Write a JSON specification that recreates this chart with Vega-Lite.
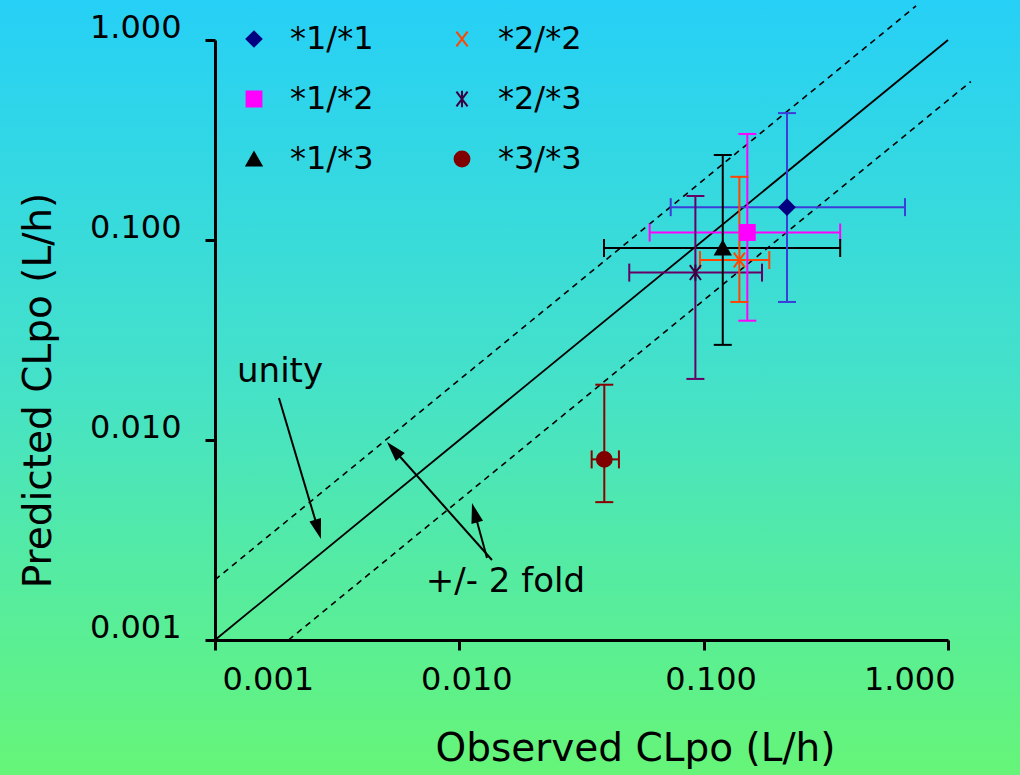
{
  "$schema": "https://vega.github.io/schema/vega-lite/v6.json",
  "width": 733,
  "height": 600,
  "autosize": {"type": "none"},
  "padding": {"left": 215, "top": 40, "right": 72, "bottom": 135},
  "background": "#45E2C8",
  "config": {
    "font": "DejaVu Sans",
    "view": {"stroke": null},
    "axis": {
      "labelFont": "DejaVu Sans",
      "titleFont": "DejaVu Sans",
      "labelColor": "black",
      "titleColor": "black",
      "domainColor": "black",
      "tickColor": "black",
      "grid": false
    },
    "legend": {
      "labelFont": "DejaVu Sans",
      "labelFontSize": 32,
      "labelColor": "black",
      "symbolSize": 220,
      "symbolStrokeWidth": 2,
      "rowPadding": 28,
      "columnPadding": 72,
      "labelOffset": 20,
      "padding": 0
    }
  },
  "datasets": {
    "bg": [{"x1": 0.0001318, "x2": 1.97, "y1": 0.0002113, "y2": 1.585}],
    "unity": [{"x": 0.001, "y": 0.001}, {"x": 1, "y": 1}],
    "fold": [
      {"line": "upper", "x": 0.001, "y": 0.002},
      {"line": "upper", "x": 0.74, "y": 1.48},
      {"line": "lower", "x": 0.002, "y": 0.001},
      {"line": "lower", "x": 1.24, "y": 0.62}
    ],
    "arrows": [
      {"id": "a1", "x": 0.001827, "y": 0.01622, "hx": 0.002642, "hy": 0.003573},
      {"id": "a2", "x": 0.01360, "y": 0.002512, "hx": 0.005384, "hy": 0.008965},
      {"id": "a3", "x": 0.01298, "y": 0.00257, "hx": 0.01155, "hy": 0.004329}
    ],
    "notes": [
      {"label": "unity", "x": 0.001846, "y": 0.0219},
      {"label": "+/- 2 fold", "x": 0.01543, "y": 0.00195}
    ],
    "pts": [
      {"g": "*1/*1", "x": 0.2193, "xlo": 0.0733, "xhi": 0.667, "y": 0.146, "ylo": 0.049, "yhi": 0.431},
      {"g": "*1/*2", "x": 0.1509, "xlo": 0.0601, "xhi": 0.362, "y": 0.109, "ylo": 0.0395, "yhi": 0.339},
      {"g": "*1/*3", "x": 0.1197, "xlo": 0.0391, "xhi": 0.362, "y": 0.0912, "ylo": 0.0299, "yhi": 0.266},
      {"g": "*2/*2", "x": 0.140, "xlo": 0.0966, "xhi": 0.1856, "y": 0.0794, "ylo": 0.049, "yhi": 0.207},
      {"g": "*2/*3", "x": 0.0925, "xlo": 0.0496, "xhi": 0.1733, "y": 0.0687, "ylo": 0.0202, "yhi": 0.166},
      {"g": "*3/*3", "x": 0.0392, "xlo": 0.0348, "xhi": 0.0450, "y": 0.0080, "ylo": 0.00489, "yhi": 0.0189}
    ]
  },
  "layer": [
    {
      "data": {"name": "bg"},
      "mark": {
        "type": "rect",
        "fill": {
          "gradient": "linear",
          "x1": 0, "y1": 0, "x2": 0, "y2": 1,
          "stops": [
            {"offset": 0, "color": "#26D0F6"},
            {"offset": 0.5, "color": "#45E2C8"},
            {"offset": 1, "color": "#66F578"}
          ]
        }
      },
      "encoding": {
        "x": {
          "field": "x1", "type": "quantitative",
          "scale": {"type": "log", "domain": [0.001, 1], "nice": false},
          "axis": {
            "zindex": 2,
            "values": [0.001, 0.01, 0.1, 1],
            "format": ".3f",
            "labelFontSize": 32,
            "labelPadding": 14,
            "labelOffset": 7,
            "tickSize": 10,
            "tickWidth": 3,
            "domainWidth": 3,
            "title": "Observed CLpo (L/h)",
            "titleFontSize": 39,
            "titleFontWeight": "normal",
            "titleX": 420,
            "titleY": 108,
            "titleBaseline": "middle",
            "titleAlign": "center"
          }
        },
        "x2": {"field": "x2"},
        "y": {
          "field": "y1", "type": "quantitative",
          "scale": {"type": "log", "domain": [0.001, 1], "nice": false},
          "axis": {
            "zindex": 2,
            "values": [0.001, 0.01, 0.1, 1],
            "format": ".3f",
            "labelFontSize": 32,
            "labelPadding": 24,
            "labelOffset": -13,
            "tickSize": 10,
            "tickWidth": 3,
            "domainWidth": 3,
            "title": "Predicted CLpo (L/h)",
            "titleFontSize": 39,
            "titleFontWeight": "normal",
            "titleX": -177,
            "titleY": 350,
            "titleAngle": -90,
            "titleBaseline": "middle",
            "titleAlign": "center"
          }
        },
        "y2": {"field": "y2"}
      }
    },
    {
      "data": {"name": "fold"},
      "mark": {"type": "line", "color": "black", "strokeWidth": 1.6, "strokeDash": [6, 5]},
      "encoding": {
        "x": {"field": "x", "type": "quantitative"},
        "y": {"field": "y", "type": "quantitative"},
        "detail": {"field": "line"}
      }
    },
    {
      "data": {"name": "unity"},
      "mark": {"type": "line", "color": "black", "strokeWidth": 1.8},
      "encoding": {
        "x": {"field": "x", "type": "quantitative"},
        "y": {"field": "y", "type": "quantitative"}
      }
    },
    {
      "data": {"name": "arrows"},
      "mark": {"type": "rule", "color": "black", "strokeWidth": 2},
      "encoding": {
        "x": {"field": "x", "type": "quantitative"},
        "y": {"field": "y", "type": "quantitative"},
        "x2": {"field": "hx"},
        "y2": {"field": "hy"}
      }
    },
    {
      "data": {"name": "arrows"},
      "transform": [{"filter": "datum.id == 'a1'"}],
      "mark": {"type": "point", "shape": "M 0 -1 L 0.6 1 L -0.6 1 Z", "filled": true, "color": "black", "size": 400, "opacity": 1, "angle": 163.4},
      "encoding": {
        "x": {"field": "hx", "type": "quantitative"},
        "y": {"field": "hy", "type": "quantitative"}
      }
    },
    {
      "data": {"name": "arrows"},
      "transform": [{"filter": "datum.id == 'a2'"}],
      "mark": {"type": "point", "shape": "M 0 -1 L 0.6 1 L -0.6 1 Z", "filled": true, "color": "black", "size": 400, "opacity": 1, "angle": 318.3},
      "encoding": {
        "x": {"field": "hx", "type": "quantitative"},
        "y": {"field": "hy", "type": "quantitative"}
      }
    },
    {
      "data": {"name": "arrows"},
      "transform": [{"filter": "datum.id == 'a3'"}],
      "mark": {"type": "point", "shape": "M 0 -1 L 0.6 1 L -0.6 1 Z", "filled": true, "color": "black", "size": 400, "opacity": 1, "angle": 344.8},
      "encoding": {
        "x": {"field": "hx", "type": "quantitative"},
        "y": {"field": "hy", "type": "quantitative"}
      }
    },
    {
      "data": {"name": "notes"},
      "mark": {"type": "text", "fontSize": 34, "color": "black", "align": "center", "baseline": "middle"},
      "encoding": {
        "x": {"field": "x", "type": "quantitative"},
        "y": {"field": "y", "type": "quantitative"},
        "text": {"field": "label"}
      }
    },
    {
      "data": {"name": "pts"},
      "mark": {"type": "rule", "strokeWidth": 2},
      "encoding": {
        "x": {"field": "xlo", "type": "quantitative"},
        "x2": {"field": "xhi"},
        "y": {"field": "y", "type": "quantitative"},
        "color": {
          "field": "g", "type": "nominal", "legend": null,
          "scale": {
            "domain": ["*1/*1", "*2/*2", "*1/*2", "*2/*3", "*1/*3", "*3/*3"],
            "range": ["#3C3CD8", "#FF4500", "#FF00FF", "#660066", "#000000", "#8B0000"]
          }
        }
      }
    },
    {
      "data": {"name": "pts"},
      "mark": {"type": "rule", "strokeWidth": 2},
      "encoding": {
        "x": {"field": "x", "type": "quantitative"},
        "y": {"field": "ylo", "type": "quantitative"},
        "y2": {"field": "yhi"},
        "color": {"field": "g", "type": "nominal", "legend": null}
      }
    },
    {
      "data": {"name": "pts"},
      "transform": [{"fold": ["xlo", "xhi"], "as": ["end", "xv"]}],
      "mark": {"type": "tick", "orient": "vertical", "size": 18, "thickness": 2, "opacity": 1},
      "encoding": {
        "x": {"field": "xv", "type": "quantitative"},
        "y": {"field": "y", "type": "quantitative"},
        "color": {"field": "g", "type": "nominal", "legend": null}
      }
    },
    {
      "data": {"name": "pts"},
      "transform": [{"fold": ["ylo", "yhi"], "as": ["end", "yv"]}],
      "mark": {"type": "tick", "orient": "horizontal", "size": 18, "thickness": 2, "opacity": 1},
      "encoding": {
        "x": {"field": "x", "type": "quantitative"},
        "y": {"field": "yv", "type": "quantitative"},
        "color": {"field": "g", "type": "nominal", "legend": null}
      }
    },
    {
      "data": {"name": "pts"},
      "mark": {"type": "point", "filled": true, "size": 220, "strokeWidth": 2, "opacity": 1},
      "encoding": {
        "x": {"field": "x", "type": "quantitative"},
        "y": {"field": "y", "type": "quantitative"},
        "fill": {
          "field": "g", "type": "nominal",
          "scale": {
            "domain": ["*1/*1", "*1/*2", "*1/*3", "*2/*2", "*2/*3", "*3/*3"],
            "range": ["#000080", "#FF00FF", "#000000", "#FF4500", "#3A0040", "#800000"]
          },
          "legend": {"orient": "none", "legendX": 23, "legendY": -17, "columns": 2, "title": null, "zindex": 2}
        },
        "stroke": {
          "field": "g", "type": "nominal",
          "scale": {
            "domain": ["*1/*1", "*1/*2", "*1/*3", "*2/*2", "*2/*3", "*3/*3"],
            "range": ["#000080", "#FF00FF", "#000000", "#FF4500", "#3A0040", "#800000"]
          },
          "legend": {"orient": "none", "legendX": 23, "legendY": -17, "columns": 2, "title": null, "zindex": 2}
        },
        "shape": {
          "field": "g", "type": "nominal",
          "scale": {
            "domain": ["*1/*1", "*1/*2", "*1/*3", "*2/*2", "*2/*3", "*3/*3"],
            "range": ["diamond", "square", "triangle-up", "M -0.75 -1 L 0.75 1 M -0.75 1 L 0.75 -1", "M -0.75 -1 L 0.75 1 M -0.75 1 L 0.75 -1 M 0 -1.1 L 0 1.1", "circle"]
          },
          "legend": {"orient": "none", "legendX": 23, "legendY": -17, "columns": 2, "title": null, "zindex": 2}
        }
      }
    }
  ]
}
